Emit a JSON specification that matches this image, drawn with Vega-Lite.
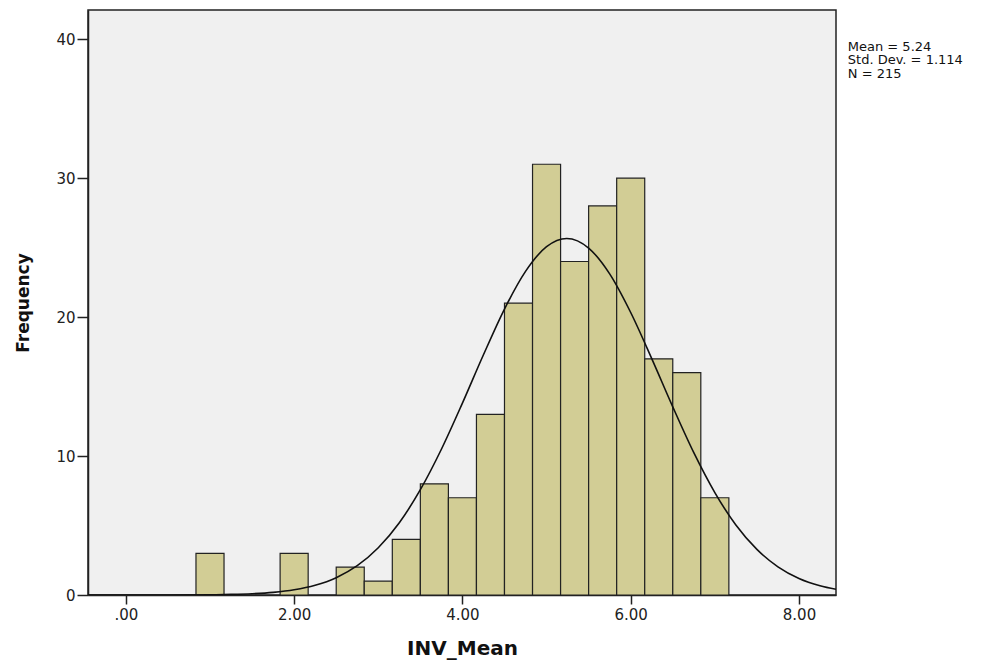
{
  "$schema": "https://vega.github.io/schema/vega-lite/v6.json",
  "width": 748,
  "height": 585,
  "autosize": {"type": "none"},
  "padding": {"left": 88, "top": 10, "right": 172, "bottom": 71},
  "background": "white",
  "config": {
    "view": {"fill": "#f0f0f0", "stroke": "#222222", "strokeWidth": 1.5},
    "font": "DejaVu Sans",
    "axis": {
      "grid": false,
      "domainColor": "#222222",
      "domainWidth": 1.5,
      "tickColor": "#222222",
      "tickWidth": 1.5,
      "labelFont": "DejaVu Sans",
      "labelFontSize": 15,
      "labelColor": "#222222",
      "titleFont": "DejaVu Sans",
      "titleFontWeight": "bold",
      "titleColor": "#111111"
    }
  },
  "datasets": {
    "bins": [
      {"start": 0.8333, "end": 1.1667, "count": 3},
      {"start": 1.8333, "end": 2.1667, "count": 3},
      {"start": 2.5, "end": 2.8333, "count": 2},
      {"start": 2.8333, "end": 3.1667, "count": 1},
      {"start": 3.1667, "end": 3.5, "count": 4},
      {"start": 3.5, "end": 3.8333, "count": 8},
      {"start": 3.8333, "end": 4.1667, "count": 7},
      {"start": 4.1667, "end": 4.5, "count": 13},
      {"start": 4.5, "end": 4.8333, "count": 21},
      {"start": 4.8333, "end": 5.1667, "count": 31},
      {"start": 5.1667, "end": 5.5, "count": 24},
      {"start": 5.5, "end": 5.8333, "count": 28},
      {"start": 5.8333, "end": 6.1667, "count": 30},
      {"start": 6.1667, "end": 6.5, "count": 17},
      {"start": 6.5, "end": 6.8333, "count": 16},
      {"start": 6.8333, "end": 7.1667, "count": 7}
    ],
    "curve": [
      {"x": -0.45, "y": 0.0},
      {"x": 0.0, "y": 0.0004},
      {"x": 0.5, "y": 0.003},
      {"x": 1.0, "y": 0.018},
      {"x": 1.25, "y": 0.042},
      {"x": 1.5, "y": 0.092},
      {"x": 1.75, "y": 0.19},
      {"x": 2.0, "y": 0.373},
      {"x": 2.25, "y": 0.70},
      {"x": 2.5, "y": 1.247},
      {"x": 2.75, "y": 2.11},
      {"x": 3.0, "y": 3.40},
      {"x": 3.25, "y": 5.20},
      {"x": 3.5, "y": 7.58},
      {"x": 3.75, "y": 10.49},
      {"x": 4.0, "y": 13.81},
      {"x": 4.25, "y": 17.29},
      {"x": 4.5, "y": 20.58},
      {"x": 4.75, "y": 23.29},
      {"x": 5.0, "y": 25.07},
      {"x": 5.24, "y": 25.66},
      {"x": 5.5, "y": 24.97},
      {"x": 5.75, "y": 23.11},
      {"x": 6.0, "y": 20.33},
      {"x": 6.25, "y": 17.01},
      {"x": 6.5, "y": 13.54},
      {"x": 6.75, "y": 10.24},
      {"x": 7.0, "y": 7.37},
      {"x": 7.25, "y": 5.04},
      {"x": 7.5, "y": 3.28},
      {"x": 7.75, "y": 2.03},
      {"x": 8.0, "y": 1.19},
      {"x": 8.25, "y": 0.667},
      {"x": 8.44, "y": 0.41}
    ],
    "stats": [
      {"x": 8.58, "y": 39.45, "label": "Mean = 5.24"},
      {"x": 8.58, "y": 38.48, "label": "Std. Dev. = 1.114"},
      {"x": 8.58, "y": 37.51, "label": "N = 215"}
    ]
  },
  "layer": [
    {
      "data": {"name": "bins"},
      "mark": {"type": "bar", "fill": "#d2cd95", "stroke": "#222222", "strokeWidth": 1.2, "opacity": 1},
      "encoding": {
        "x": {
          "field": "start", "type": "quantitative",
          "scale": {"domain": [-0.45, 8.44], "nice": false, "zero": false},
          "axis": {
            "values": [0, 2, 4, 6, 8],
            "labelExpr": "datum.value == 0 ? '.00' : format(datum.value, '.2f')",
            "tickSize": 9,
            "labelPadding": 3,
            "title": "INV_Mean",
            "titleFontSize": 20,
            "titlePadding": 16
          }
        },
        "x2": {"field": "end"},
        "y": {
          "field": "count", "type": "quantitative",
          "scale": {"domain": [0, 42.1], "nice": false},
          "axis": {
            "values": [0, 10, 20, 30, 40],
            "tickSize": 11,
            "labelPadding": 2,
            "title": "Frequency",
            "titleFontSize": 17,
            "titlePadding": 23
          }
        },
        "y2": {"datum": 0}
      }
    },
    {
      "data": {"name": "curve"},
      "mark": {"type": "line", "color": "#111111", "strokeWidth": 1.6, "interpolate": "monotone", "clip": true},
      "encoding": {
        "x": {"field": "x", "type": "quantitative"},
        "y": {"field": "y", "type": "quantitative"}
      }
    },
    {
      "data": {"name": "stats"},
      "mark": {"type": "text", "align": "left", "baseline": "middle", "font": "DejaVu Sans", "fontSize": 13, "color": "#111111", "clip": false},
      "encoding": {
        "x": {"field": "x", "type": "quantitative"},
        "y": {"field": "y", "type": "quantitative"},
        "text": {"field": "label"}
      }
    }
  ]
}
